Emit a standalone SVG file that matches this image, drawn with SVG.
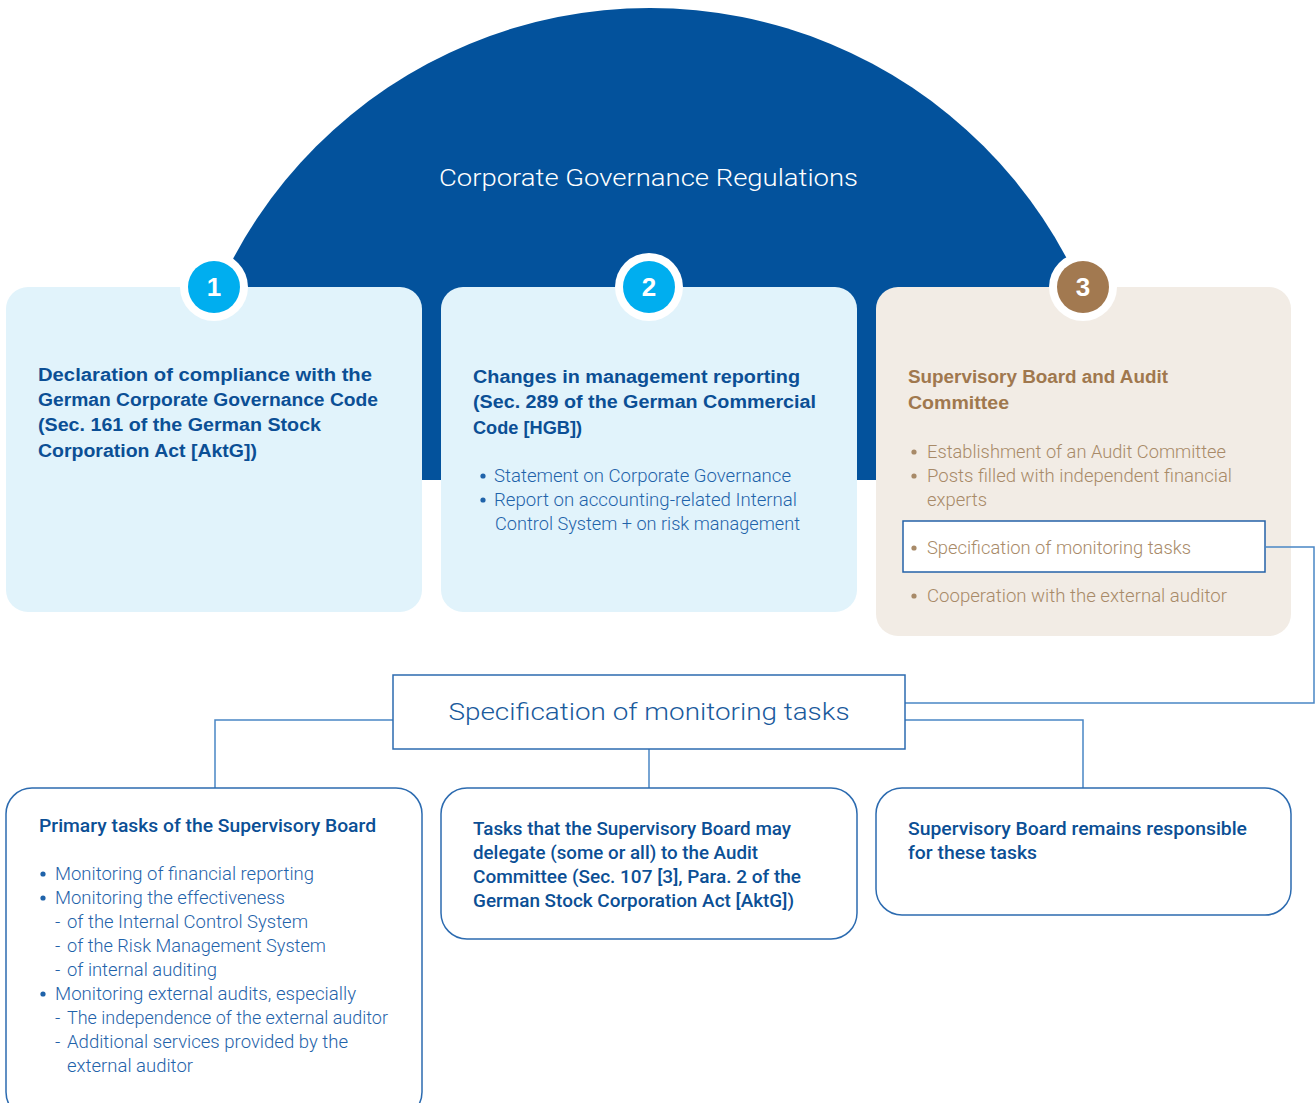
<svg xmlns="http://www.w3.org/2000/svg" width="1316" height="1103" viewBox="0 0 1316 1103">
<style>
.hd{font-family:"Liberation Sans",Arial,sans-serif;font-weight:700;font-size:18px;fill:#0b4f95}
.hdb{font-family:"Liberation Sans",Arial,sans-serif;font-weight:700;font-size:18px;fill:#a0784e}
.bd{font-family:Roboto,"Liberation Sans",sans-serif;font-weight:300;font-size:18.5px;fill:#1f63aa}
.bdb{font-family:Roboto,"Liberation Sans",sans-serif;font-weight:300;font-size:18.5px;fill:#a88a68}
.bh{font-family:Roboto,"Liberation Sans",sans-serif;font-weight:500;font-size:18px;fill:#0b4f95}
.num{font-family:"Liberation Sans",Arial,sans-serif;font-weight:700;font-size:26px;fill:#fff;text-anchor:middle}
.conn{fill:none;stroke:#4a86c5;stroke-width:1.5}
.ob{fill:#fff;stroke:#2c6bb0;stroke-width:1.5}
</style>
<rect width="1316" height="1103" fill="#fff"/>
<g id="dome">
<path d="M178 480 A472 472 0 0 1 1122 480 Z" fill="#03529c"/>
<text x="648.5" y="186" font-family="Roboto,'Liberation Sans',sans-serif" font-weight="300" font-size="24" fill="#fff" text-anchor="middle" textLength="419" lengthAdjust="spacingAndGlyphs">Corporate Governance Regulations</text>
</g>
<g id="box1">
<rect x="6" y="287" width="416" height="325" rx="22" fill="#e1f3fb"/>
<text class="hd" x="38" y="381" textLength="334" lengthAdjust="spacingAndGlyphs">Declaration of compliance with the</text>
<text class="hd" x="38" y="406" textLength="340" lengthAdjust="spacingAndGlyphs">German Corporate Governance Code</text>
<text class="hd" x="38" y="431" textLength="283" lengthAdjust="spacingAndGlyphs">(Sec. 161 of the German Stock</text>
<text class="hd" x="38" y="457" textLength="219" lengthAdjust="spacingAndGlyphs">Corporation Act [AktG])</text>
</g>
<g id="box2">
<rect x="441" y="287" width="416" height="325" rx="22" fill="#e1f3fb"/>
<text class="hd" x="473" y="383" textLength="327" lengthAdjust="spacingAndGlyphs">Changes in management reporting</text>
<text class="hd" x="473" y="408" textLength="343" lengthAdjust="spacingAndGlyphs">(Sec. 289 of the German Commercial</text>
<text class="hd" x="473" y="434" textLength="109" lengthAdjust="spacingAndGlyphs">Code [HGB])</text>
<circle cx="483" cy="476" r="2.6" fill="#1f63aa"/>
<circle cx="483" cy="500" r="2.6" fill="#1f63aa"/>
<text class="bd" x="494" y="482" textLength="297" lengthAdjust="spacingAndGlyphs">Statement on Corporate Governance</text>
<text class="bd" x="494" y="506" textLength="303" lengthAdjust="spacingAndGlyphs">Report on accounting-related Internal</text>
<text class="bd" x="495" y="530" textLength="305" lengthAdjust="spacingAndGlyphs">Control System + on risk management</text>
</g>
<g id="box3">
<rect x="876" y="287" width="415" height="349" rx="22" fill="#f2ece5"/>
<text class="hdb" x="908" y="383" textLength="260" lengthAdjust="spacingAndGlyphs">Supervisory Board and Audit</text>
<text class="hdb" x="908" y="409" textLength="101" lengthAdjust="spacingAndGlyphs">Committee</text>
<circle cx="914" cy="452" r="2.6" fill="#a88a68"/>
<circle cx="914" cy="476" r="2.6" fill="#a88a68"/>
<text class="bdb" x="927" y="458" textLength="299" lengthAdjust="spacingAndGlyphs">Establishment of an Audit Committee</text>
<text class="bdb" x="927" y="482" textLength="305" lengthAdjust="spacingAndGlyphs">Posts filled with independent financial</text>
<text class="bdb" x="927" y="506" textLength="60" lengthAdjust="spacingAndGlyphs">experts</text>
<rect x="903" y="521" width="362" height="51" fill="#fff" stroke="#2462a8" stroke-width="1.5"/>
<circle cx="914" cy="548" r="2.6" fill="#a88a68"/>
<text class="bdb" x="927" y="554" textLength="264" lengthAdjust="spacingAndGlyphs">Specification of monitoring tasks</text>
<circle cx="914" cy="596" r="2.6" fill="#a88a68"/>
<text class="bdb" x="927" y="602" textLength="300" lengthAdjust="spacingAndGlyphs">Cooperation with the external auditor</text>
</g>
<g id="badges">
<circle cx="214" cy="287" r="34" fill="#fff"/>
<circle cx="214" cy="287" r="26" fill="#00aeef"/>
<text class="num" x="214" y="296">1</text>
<circle cx="649" cy="287" r="34" fill="#fff"/>
<circle cx="649" cy="287" r="26" fill="#00aeef"/>
<text class="num" x="649" y="296">2</text>
<circle cx="1083" cy="287" r="34" fill="#fff"/>
<circle cx="1083" cy="287" r="26" fill="#a27950"/>
<text class="num" x="1083" y="296">3</text>
</g>
<g id="connectors">
<polyline class="conn" points="1265,547 1314,547 1314,703 905,703"/>
<polyline class="conn" points="393,720 215,720 215,788"/>
<polyline class="conn" points="905,720 1083,720 1083,788"/>
<line class="conn" x1="649" y1="749" x2="649" y2="788"/>
</g>
<g id="spec">
<rect x="393" y="675" width="512" height="74" fill="#fff" stroke="#2c6bb0" stroke-width="1.5"/>
<text x="649" y="720" font-family="Roboto,'Liberation Sans',sans-serif" font-weight="300" font-size="24" fill="#1a5a9c" text-anchor="middle" textLength="401" lengthAdjust="spacingAndGlyphs">Specification of monitoring tasks</text>
</g>
<g id="boxA">
<rect class="ob" x="6" y="788" width="416" height="330" rx="26"/>
<text class="bh" x="39" y="832" textLength="337" lengthAdjust="spacingAndGlyphs">Primary tasks of the Supervisory Board</text>
<circle cx="43" cy="874" r="2.6" fill="#1f63aa"/>
<circle cx="43" cy="898" r="2.6" fill="#1f63aa"/>
<circle cx="43" cy="994" r="2.6" fill="#1f63aa"/>
<text class="bd" x="55" y="880" textLength="259" lengthAdjust="spacingAndGlyphs">Monitoring of financial reporting</text>
<text class="bd" x="55" y="904" textLength="230" lengthAdjust="spacingAndGlyphs">Monitoring the effectiveness</text>
<text class="bd" x="55" y="928">-</text>
<text class="bd" x="67" y="928" textLength="241" lengthAdjust="spacingAndGlyphs">of the Internal Control System</text>
<text class="bd" x="55" y="952">-</text>
<text class="bd" x="67" y="952" textLength="259" lengthAdjust="spacingAndGlyphs">of the Risk Management System</text>
<text class="bd" x="55" y="976">-</text>
<text class="bd" x="67" y="976" textLength="150" lengthAdjust="spacingAndGlyphs">of internal auditing</text>
<text class="bd" x="55" y="1000" textLength="301" lengthAdjust="spacingAndGlyphs">Monitoring external audits, especially</text>
<text class="bd" x="55" y="1024">-</text>
<text class="bd" x="67" y="1024" textLength="321" lengthAdjust="spacingAndGlyphs">The independence of the external auditor</text>
<text class="bd" x="55" y="1048">-</text>
<text class="bd" x="67" y="1048" textLength="281" lengthAdjust="spacingAndGlyphs">Additional services provided by the</text>
<text class="bd" x="67" y="1072" textLength="126" lengthAdjust="spacingAndGlyphs">external auditor</text>
</g>
<g id="boxB">
<rect class="ob" x="441" y="788" width="416" height="151" rx="26"/>
<text class="bh" x="473" y="835" textLength="318" lengthAdjust="spacingAndGlyphs">Tasks that the Supervisory Board may</text>
<text class="bh" x="473" y="859" textLength="285" lengthAdjust="spacingAndGlyphs">delegate (some or all) to the Audit</text>
<text class="bh" x="473" y="883" textLength="328" lengthAdjust="spacingAndGlyphs">Committee (Sec. 107 [3], Para. 2 of the</text>
<text class="bh" x="473" y="907" textLength="321" lengthAdjust="spacingAndGlyphs">German Stock Corporation Act [AktG])</text>
</g>
<g id="boxC">
<rect class="ob" x="876" y="788" width="415" height="127" rx="26"/>
<text class="bh" x="908" y="835" textLength="339" lengthAdjust="spacingAndGlyphs">Supervisory Board remains responsible</text>
<text class="bh" x="908" y="859" textLength="129" lengthAdjust="spacingAndGlyphs">for these tasks</text>
</g>
</svg>
